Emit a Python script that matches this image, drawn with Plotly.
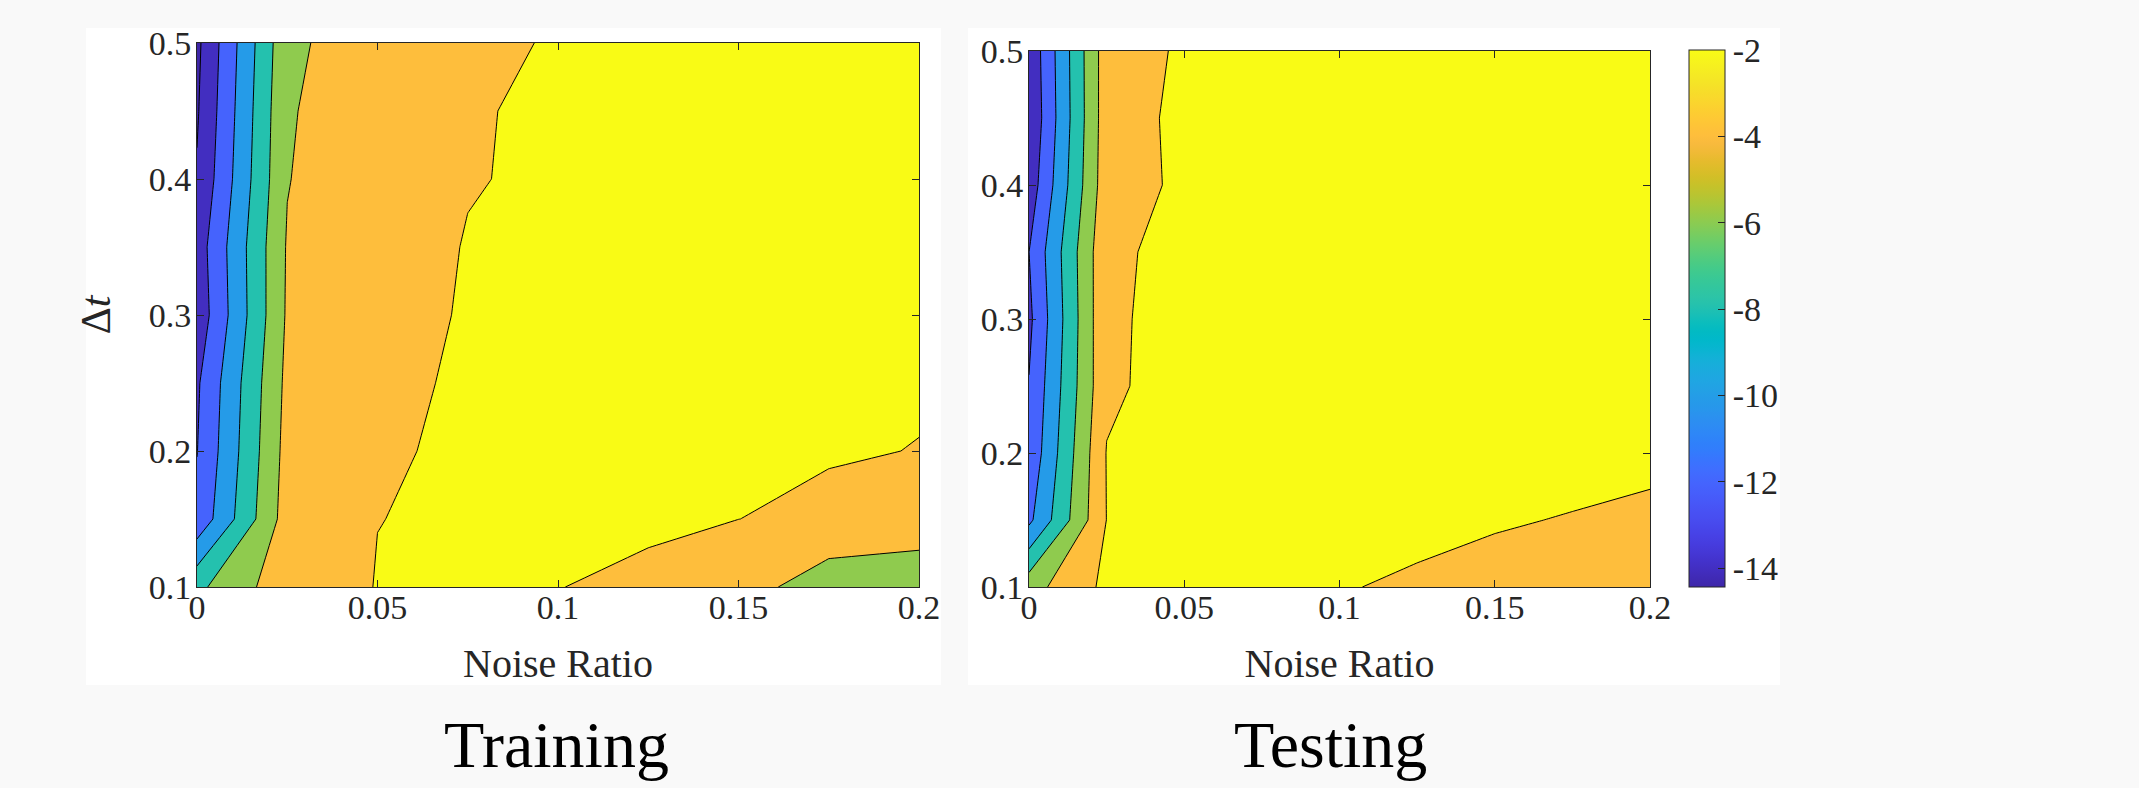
import plotly.graph_objects as go

# ---------------- data ----------------
noise_ratio = [0.0, 0.025, 0.05, 0.075, 0.1, 0.125, 0.15, 0.175, 0.2]
delta_t = [0.1, 0.15, 0.2, 0.25, 0.3, 0.35, 0.4, 0.45, 0.5]

# log10 error, rows = delta_t (bottom -> top), cols = noise_ratio
train_log_error = [
    [-6.44, -2.74, -1.96, -1.93, -1.988, -2.136, -3.00, -5.27, -5.00],
    [-11.48, -3.08, -2.01, -1.90, -1.95, -1.90, -1.995, -2.227, -3.15],
    [-12.05, -3.30, -2.039, -1.95, -1.94, -1.95, -1.95, -1.92, -2.02],
    [-12.28, -3.51, -2.09, -1.95, -1.94, -1.95, -1.95, -1.95, -1.92],
    [-13.30, -3.75, -2.228, -1.95, -1.94, -1.94, -1.95, -1.94, -1.93],
    [-13.03, -3.83, -2.52, -1.95, -1.95, -1.94, -1.94, -1.94, -1.93],
    [-13.83, -4.09, -2.045, -2.05, -1.86, -1.93, -1.94, -1.94, -1.93],
    [-14.20, -4.20, -2.53, -2.025, -1.95, -1.94, -1.94, -1.93, -1.93],
    [-14.44, -4.44, -2.75, -2.14, -1.95, -1.94, -1.93, -1.93, -1.93],
]

test_log_error = [
    [-4.77, -1.56, -1.75, -1.80, -1.953, -2.1125, -2.196, -2.30, -2.40],
    [-10.44, -1.97, -1.70, -1.75, -1.80, -1.80, -1.95, -2.029, -2.169],
    [-11.54, -1.92, -1.60, -1.75, -1.80, -1.80, -1.80, -1.80, -1.80],
    [-11.91, -2.36, -1.16, -1.60, -1.75, -1.80, -1.80, -1.80, -1.80],
    [-12.45, -2.25, -1.49, -1.70, -1.80, -1.80, -1.80, -1.80, -1.80],
    [-12.01, -2.33, -1.51, -1.70, -1.80, -1.80, -1.80, -1.80, -1.80],
    [-13.21, -2.79, -1.69, -1.75, -1.80, -1.80, -1.80, -1.80, -1.80],
    [-13.79, -2.86, -1.595, -1.75, -1.80, -1.80, -1.80, -1.80, -1.80],
    [-13.59, -2.89, -1.77, -1.80, -1.80, -1.80, -1.80, -1.80, -1.80],
]

contour_levels = [-14, -12, -10, -8, -6, -4, -2]
x_ticks = [0, 0.05, 0.1, 0.15, 0.2]
x_ticklabels = ["0", "0.05", "0.1", "0.15", "0.2"]
y_ticks = [0.1, 0.2, 0.3, 0.4, 0.5]
y_ticklabels = ["0.1", "0.2", "0.3", "0.4", "0.5"]
cbar_ticks = [-14, -12, -10, -8, -6, -4, -2]
cbar_ticklabels = ["-14", "-12", "-10", "-8", "-6", "-4", "-2"]
panel_titles = ["Training", "Testing"]

# ---------------- style ----------------
PARULA = [
    (0.2422, 0.1504, 0.6603), (0.2504, 0.1650, 0.7076), (0.2578, 0.1818, 0.7511), (0.2647, 0.1978, 0.7952),
    (0.2706, 0.2147, 0.8364), (0.2751, 0.2342, 0.8710), (0.2783, 0.2559, 0.8991), (0.2803, 0.2782, 0.9221),
    (0.2813, 0.3006, 0.9414), (0.2810, 0.3228, 0.9579), (0.2795, 0.3447, 0.9717), (0.2760, 0.3667, 0.9829),
    (0.2699, 0.3892, 0.9906), (0.2602, 0.4123, 0.9952), (0.2440, 0.4358, 0.9988), (0.2206, 0.4603, 0.9973),
    (0.1963, 0.4847, 0.9892), (0.1834, 0.5074, 0.9798), (0.1786, 0.5289, 0.9682), (0.1764, 0.5499, 0.9520),
    (0.1687, 0.5703, 0.9359), (0.1540, 0.5902, 0.9218), (0.1460, 0.6091, 0.9079), (0.1380, 0.6276, 0.8973),
    (0.1248, 0.6459, 0.8883), (0.1113, 0.6635, 0.8763), (0.0952, 0.6798, 0.8598), (0.0689, 0.6948, 0.8394),
    (0.0297, 0.7082, 0.8163), (0.0036, 0.7203, 0.7917), (0.0067, 0.7312, 0.7660), (0.0433, 0.7411, 0.7394),
    (0.0964, 0.7500, 0.7120), (0.1408, 0.7584, 0.6842), (0.1717, 0.7670, 0.6554), (0.1938, 0.7758, 0.6251),
    (0.2161, 0.7843, 0.5923), (0.2470, 0.7918, 0.5567), (0.2906, 0.7973, 0.5188), (0.3406, 0.8008, 0.4789),
    (0.3909, 0.8029, 0.4354), (0.4456, 0.8024, 0.3909), (0.5044, 0.7993, 0.3480), (0.5616, 0.7942, 0.3045),
    (0.6174, 0.7876, 0.2612), (0.6720, 0.7793, 0.2227), (0.7242, 0.7698, 0.1910), (0.7738, 0.7598, 0.1646),
    (0.8203, 0.7498, 0.1535), (0.8634, 0.7406, 0.1596), (0.9035, 0.7330, 0.1774), (0.9393, 0.7288, 0.2100),
    (0.9728, 0.7298, 0.2394), (0.9956, 0.7434, 0.2371), (0.9970, 0.7659, 0.2199), (0.9952, 0.7893, 0.2028),
    (0.9892, 0.8136, 0.1885), (0.9786, 0.8386, 0.1766), (0.9676, 0.8639, 0.1643), (0.9610, 0.8890, 0.1537),
    (0.9597, 0.9135, 0.1423), (0.9628, 0.9373, 0.1265), (0.9691, 0.9606, 0.1064), (0.9769, 0.9839, 0.0805),
]


def rgb(c):
    return "rgb(%d,%d,%d)" % tuple(round(v * 255) for v in c)


parula_scale = [[i / 63, rgb(c)] for i, c in enumerate(PARULA)]

cmin = min(min(r) for r in train_log_error + test_log_error)
cmax = contour_levels[-1]


def parula_at(v):
    f = (v - cmin) / (cmax - cmin)
    idx = max(0, min(63, int(f * 64)))
    return rgb(PARULA[idx])


# band colours (MATLAB contourf colours a band by its lower level)
band_cols = [rgb(PARULA[0])] + [parula_at(l) for l in contour_levels]
nb = len(band_cols) - 1
band_scale = [[k / nb, c] for k, c in enumerate(band_cols)]

FONT = "Liberation Serif"
TXT = "#262626"
BG = "#f9f9f9"
W, H = 2139, 788


def px_x(p):
    return p / W


def px_y(p):
    return 1 - p / H


fig = go.Figure()

for z, xa, ya in [(train_log_error, "x", "y"), (test_log_error, "x2", "y2")]:
    fig.add_trace(go.Contour(
        x=noise_ratio, y=delta_t, z=z, xaxis=xa, yaxis=ya,
        autocontour=False,
        contours=dict(coloring="fill", start=contour_levels[0], end=contour_levels[-1],
                      size=contour_levels[1] - contour_levels[0], showlines=True),
        line=dict(color="black", width=1, smoothing=0),
        colorscale=band_scale, showscale=False, hoverinfo="skip",
    ))

# colorbar carrier
fig.add_trace(go.Scatter(
    x=[noise_ratio[-1]], y=[delta_t[-1]], xaxis="x2", yaxis="y2", mode="markers",
    hoverinfo="skip", showlegend=False,
    marker=dict(size=1, opacity=0, color=[cmax], cmin=cmin, cmax=cmax,
                colorscale=parula_scale, showscale=True,
                colorbar=dict(
                    thickness=36, thicknessmode="pixels",
                    len=(587 - 50) / H, lenmode="fraction",
                    x=px_x(1689), xanchor="left", xpad=0,
                    y=px_y(587), yanchor="bottom", ypad=0,
                    outlinewidth=1, outlinecolor=TXT,
                    ticks="inside", ticklen=7, tickcolor=TXT, tickwidth=1,
                    tickvals=cbar_ticks, ticktext=cbar_ticklabels,
                    tickfont=dict(family=FONT, size=34, color=TXT),
                ))
))

axis_common = dict(
    showgrid=False, zeroline=False, showline=True, linecolor=TXT, linewidth=1,
    mirror="ticks", ticks="inside", ticklen=7, tickwidth=1, tickcolor=TXT,
    tickfont=dict(family=FONT, size=34, color=TXT), automargin=False,
)

fig.update_layout(
    width=W, height=H,
    margin=dict(l=0, r=0, t=0, b=0),
    paper_bgcolor=BG, plot_bgcolor="white",
    showlegend=False,
    xaxis=dict(domain=[px_x(197), px_x(919)], range=[0, 0.2], anchor="y",
               tickvals=x_ticks, ticktext=x_ticklabels, ticklabelstandoff=-10,
               title=dict(text="Noise Ratio", font=dict(family=FONT, size=40, color=TXT), standoff=24),
               **axis_common),
    yaxis=dict(domain=[px_y(587), px_y(43)], range=[0.1, 0.5], anchor="x",
               tickvals=y_ticks, ticktext=y_ticklabels, ticklabelstandoff=-2,
               title=dict(text="Δ<i>t</i>", font=dict(family=FONT, size=42, color=TXT), standoff=25),
               **axis_common),
    xaxis2=dict(domain=[px_x(1029), px_x(1650)], range=[0, 0.2], anchor="y2",
                tickvals=x_ticks, ticktext=x_ticklabels, ticklabelstandoff=-10,
                title=dict(text="Noise Ratio", font=dict(family=FONT, size=40, color=TXT), standoff=24),
                **axis_common),
    yaxis2=dict(domain=[px_y(587), px_y(51)], range=[0.1, 0.5], anchor="x2",
                tickvals=y_ticks, ticktext=y_ticklabels, ticklabelstandoff=-2,
                **axis_common),
    shapes=[
        dict(type="rect", xref="paper", yref="paper", layer="below",
             x0=px_x(86), x1=px_x(941), y0=px_y(685), y1=px_y(28),
             fillcolor="white", line=dict(width=0)),
        dict(type="rect", xref="paper", yref="paper", layer="below",
             x0=px_x(968), x1=px_x(1780), y0=px_y(685), y1=px_y(28),
             fillcolor="white", line=dict(width=0)),
    ],
    annotations=[
        dict(text=panel_titles[0], x=px_x(556), y=px_y(744), xref="paper", yref="paper",
             showarrow=False, xanchor="center", yanchor="middle",
             font=dict(family=FONT, size=66, color="black")),
        dict(text=panel_titles[1], x=px_x(1330), y=px_y(744), xref="paper", yref="paper",
             showarrow=False, xanchor="center", yanchor="middle",
             font=dict(family=FONT, size=66, color="black")),
    ],
)

fig.write_html(
    "out.html",
    config={"displayModeBar": False},
    post_script="document.body.style.margin='0px';document.body.style.background='%s';"
                "document.body.style.overflow='hidden';" % BG,
)
